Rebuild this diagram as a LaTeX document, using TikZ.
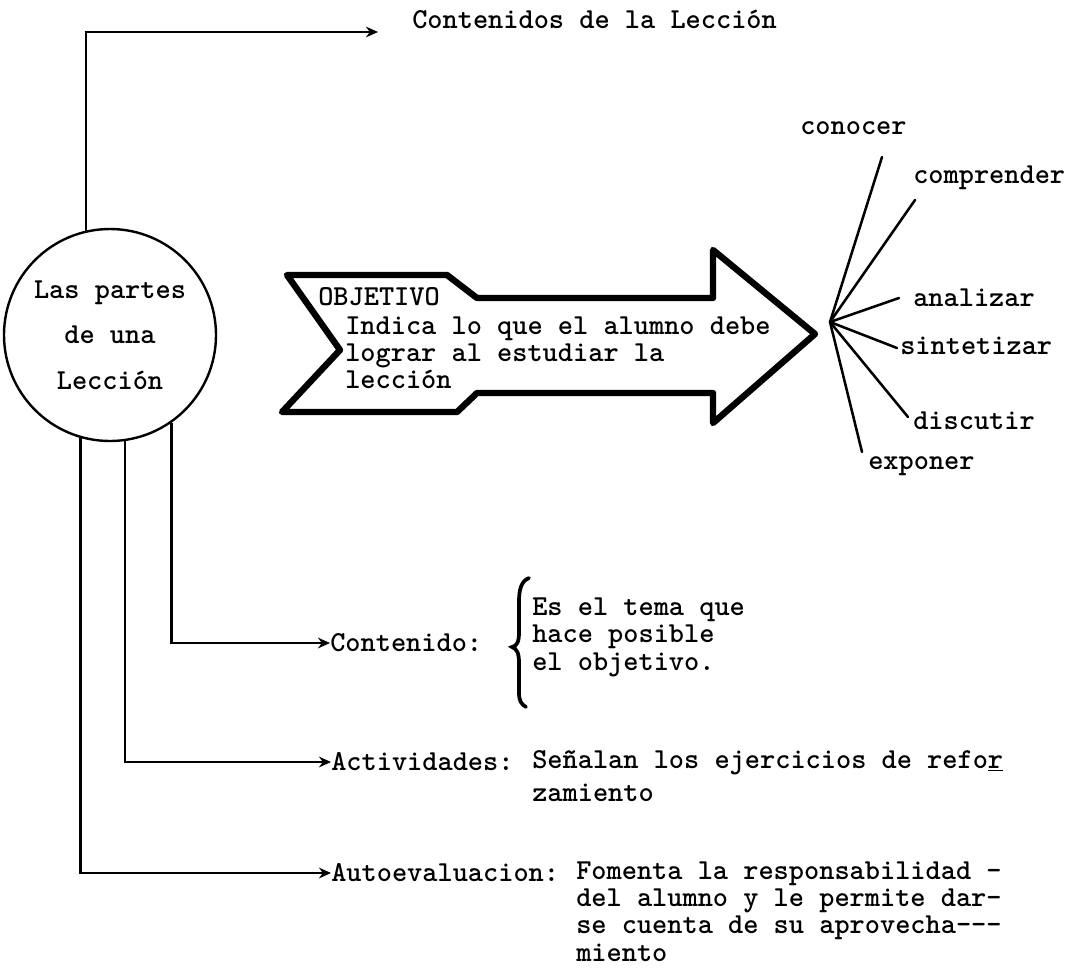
\documentclass[tikz,border=0pt]{standalone}
\usepackage{fontspec}
\usetikzlibrary{arrows.meta}
% typewriter text, with a given baseline skip
\newcommand\twfont[1][22]{\fontsize{21.7}{#1}\selectfont\ttfamily\bfseries}
\begin{document}
\begin{tikzpicture}[x=0.75pt,y=-0.75pt,
  every node/.style={inner sep=0pt, font=\twfont},
  % multi-line labels are placed by the baseline of their last line
  lbl/.style={anchor=base west, align=left},
  conn/.style={draw, line width=1.8pt, -{Stealth[length=9pt,width=8pt]}},
  fanline/.style={line width=1.9pt, line cap=round},
  objarrow/.style={line width=4.8pt, line join=round},
  bracestroke/.style={line width=2.8pt, line cap=round}]
\useasboundingbox[fill=white] (0,0) rectangle (1069,971);

% central topic
\node[draw, circle, line width=1.8pt, minimum size=159pt, align=center,
      font={\twfont[34]}] (circ) at (110,335)
      {Las partes\\de una\\Lección};

% top branch
\node[lbl] (toptxt) at (412,28) {Contenidos de la Lección};
\coordinate (toptip) at (378,32);
\draw[conn] (circ.103.6) |- (toptip);

% the objective arrow
\draw[objarrow] (287,275) -- (447,275) -- (477,298) -- (713,298) -- (713,250)
  -- (815,334) -- (713,423) -- (713,393) -- (477,393) -- (457,412)
  -- (282,412) -- (340,350) -- cycle;
\node[lbl] (objt) at (318,305) {OBJETIVO};
\node[lbl, font={\twfont[20.25]}] (objd) at (345,388)
  {Indica lo que el alumno debe\\lograr al estudiar la\\lección};

% verbs fanning out from the arrow tip
\coordinate (fan) at (830,322);
\coordinate (e1) at (882,157);
\coordinate (e2) at (915,200);
\coordinate (e3) at (899,298);
\coordinate (e4) at (897,348);
\coordinate (e5) at (908,417);
\coordinate (e6) at (862,452);
\foreach \e in {e1,e2,e3,e4,e5,e6} \draw[fanline] (fan) -- (\e);
\node[lbl] (v1) at (800,134) {conocer};
\node[lbl] (v2) at (913,183) {comprender};
\node[lbl] (v3) at (913,306) {analizar};
\node[lbl] (v4) at (900,354) {sintetizar};
\node[lbl] (v5) at (913,429) {discutir};
\node[lbl] (v6) at (868,469) {exponer};

% Contenido
\node[anchor=west] (cont) at (330,643) {Contenido:};
\draw[conn] (circ.305.1) |- (cont.west);
\draw[bracestroke] (529,578) .. controls (521,581) and (519,590) .. (519,602)
  -- (519,632) .. controls (519,642) and (517,646) .. (512,647)
  .. controls (517,649) and (519,653) .. (519,663)
  -- (519,692) .. controls (519,701) and (521,704) .. (526,707);
\node[lbl, font={\twfont[20.5]}] (contd) at (532,670)
  {Es el tema que\\hace posible\\el objetivo.};

% Actividades
\node[anchor=west] (act) at (331,762) {Actividades:};
\draw[conn] (circ.278.7) |- (act.west);
\node[lbl, font={\twfont[24.75]}] (actd) at (532,801)
  {Señalan los ejercicios de refo\underline{r}\\zamiento};

% Autoevaluacion
\node[anchor=west] (auto) at (331,873) {Autoevaluacion:};
\draw[conn] (circ.254.7) |- (auto.west);
\node[lbl, font={\twfont[20.5]}] (autod) at (576,961)
  {Fomenta la responsabilidad -\\del alumno y le permite dar-\\se cuenta de su aprovecha{-}{-}{-}\\miento};
\end{tikzpicture}
\end{document}
